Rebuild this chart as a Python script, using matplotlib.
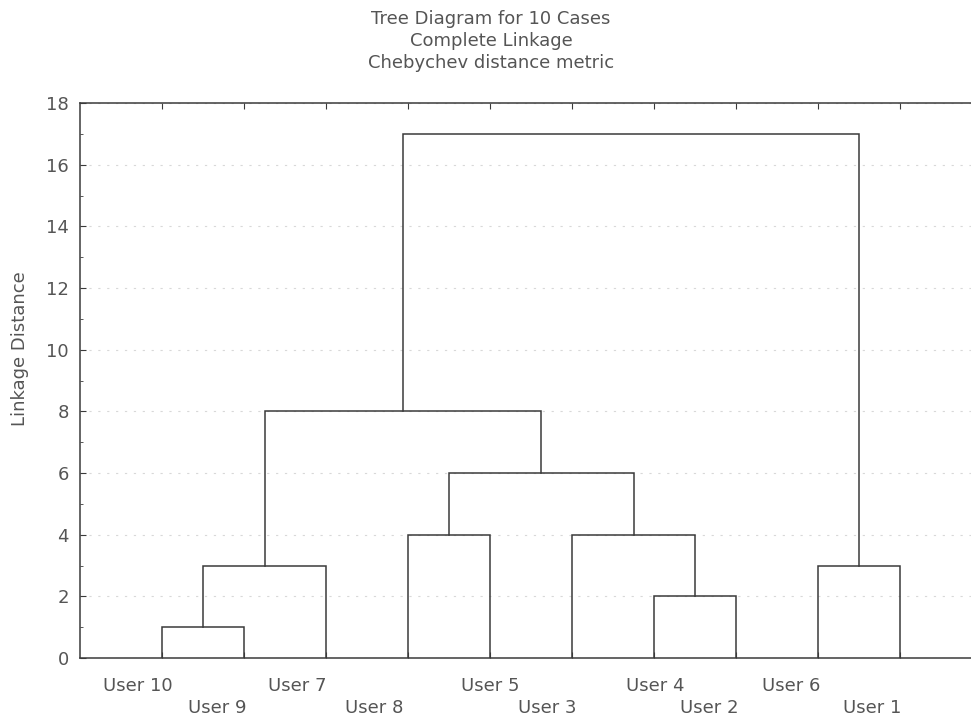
import matplotlib
matplotlib.use('Agg')
import matplotlib.pyplot as plt
import matplotlib.transforms as mtransforms

# Hojas del dendrograma en el orden del eje x
leaves = ['User 10', 'User 9', 'User 7', 'User 8', 'User 5',
          'User 3', 'User 4', 'User 2', 'User 6', 'User 1']

# Uniones: (nodo izquierdo, nodo derecho, distancia de enlace)
merges = [
    ('User 10', 'User 9', 1),
    ('A', 'User 7', 3),
    ('User 8', 'User 5', 4),
    ('User 4', 'User 2', 2),
    ('User 3', 'D', 4),
    ('C', 'E', 6),
    ('B', 'F', 8),
    ('User 6', 'User 1', 3),
    ('G', 'H', 17),
]
merge_names = ['A', 'B', 'C', 'D', 'E', 'F', 'G', 'H', 'I']

# Desplazamiento horizontal de cada etiqueta (px), como en el original
label_shift = [11, 2, 0, -5, 29, 4, 30, 2, 2, 1]

line_col = '#3a3a3a'
text_col = '#555555'
plt.rcParams['font.family'] = ['DejaVu Sans']
plt.rcParams['font.size'] = 13

fig = plt.figure(figsize=(9.71, 7.2), dpi=100)
ax = fig.add_axes([80 / 971, 62 / 720, 902 / 971, 555 / 720])

# posiciones y alturas de cada nodo
pos = {name: i + 1 for i, name in enumerate(leaves)}
height = {name: 0 for name in leaves}

for name, (left, right, d) in zip(merge_names, merges):
    xl, xr = pos[left], pos[right]
    ax.plot([xl, xl, xr, xr], [height[left], d, d, height[right]],
            color=line_col, lw=1.1, solid_joinstyle='miter')
    pos[name] = (xl + xr) / 2
    height[name] = d

ax.set_xlim(0, 11)
ax.set_ylim(0, 18)
ax.set_yticks(range(0, 19, 2))
ax.set_yticks(range(0, 19, 1), minor=True)
ax.tick_params(axis='y', which='major', direction='in', length=4,
               colors=line_col, labelcolor=text_col, labelsize=13, pad=8)
ax.tick_params(axis='y', which='minor', direction='in', length=2, colors=line_col)
ax.set_xticks(range(1, 11))
ax.tick_params(axis='x', direction='in', length=4, colors=line_col,
               labelbottom=False, top=True)
ax.grid(axis='y', color='#d8d8d8', linestyle=(0, (2, 6)), lw=0.8)
for s in ax.spines.values():
    s.set_color(line_col)
    s.set_linewidth(1.1)

# etiquetas en dos filas alternas
for i, lab in enumerate(leaves):
    row = i % 2
    tr = mtransforms.offset_copy(ax.get_xaxis_transform(), fig=fig,
                                 x=label_shift[i] * 0.72, y=-(28 + 22 * row) * 0.72,
                                 units='points')
    ax.text(i + 1, 0, lab, transform=tr, ha='right', va='center',
            color=text_col, fontsize=13)

fig.text(491 / 971, 1 - 10 / 720,
         'Tree Diagram for 10 Cases\nComplete Linkage\nChebychev distance metric',
         ha='center', va='top', color=text_col, fontsize=13, linespacing=1.3)
fig.text(20 / 971, 1 - 349 / 720, 'Linkage Distance', rotation=90,
         ha='center', va='center', color=text_col, fontsize=13)

fig.savefig('out.png', dpi=100)
